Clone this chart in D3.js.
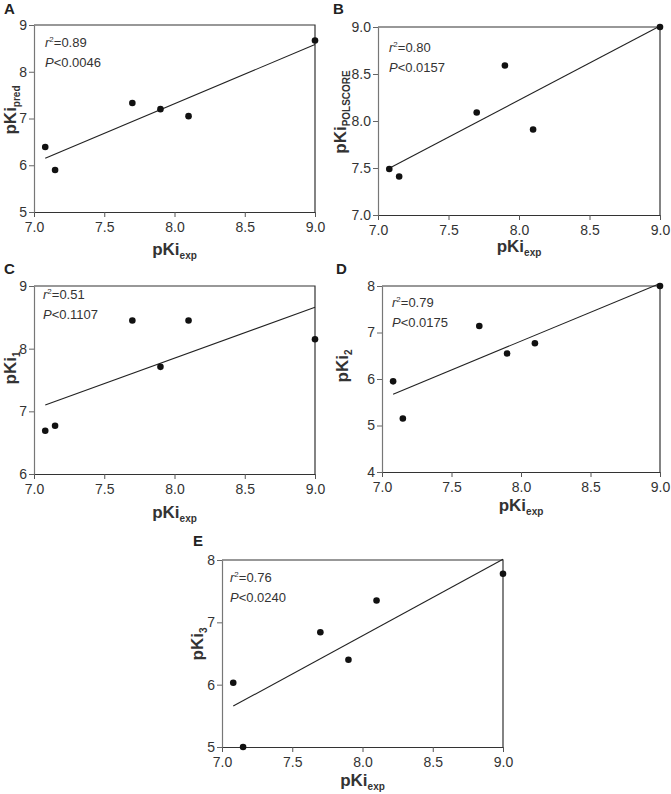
<!DOCTYPE html>
<html>
<head>
<meta charset="utf-8">
<script src="https://cdn.jsdelivr.net/npm/d3@7"></script>
<style>
  body { margin: 0; background: #fff; }
  svg text { font-family: "Liberation Sans", Arial, Helvetica, sans-serif; }
</style>
</head>
<body>
<div id="graph"><svg></svg></div>
<script>
// data
const pKiExp = [7.08, 7.15, 7.70, 7.90, 8.10, 9.00];
const pKiPred = [6.39, 5.90, 7.33, 7.20, 7.05, 8.67];
const pKiPolscore = [7.49, 7.41, 8.09, 8.59, 7.91, 9.00];
const pKi1 = [6.69, 6.77, 8.45, 7.71, 8.45, 8.15];
const pKi2 = [5.95, 5.15, 7.14, 6.55, 6.77, 8.00];
const pKi3 = [6.03, 5.00, 6.84, 6.40, 7.35, 7.78];

const panelLetters = ["A", "B", "C", "D", "E"];
const ySubscripts = ["pred", "POLSCORE", "1", "2", "3"];
const r2Labels = ["0.89", "0.80", "0.51", "0.79", "0.76"];
const pLabels = ["0.0046", "0.0157", "0.1107", "0.0175", "0.0240"];
const yDomains = [[5, 9], [7, 9], [6, 9], [4, 8], [5, 8]];
const yTicks = [[5, 6, 7, 8, 9], [7, 7.5, 8, 8.5, 9], [6, 7, 8, 9], [4, 5, 6, 7, 8], [5, 6, 7, 8]];
const yFormats = ["d", ".1f", "d", "d", "d"];
const xDomain = [7, 9];
const xTicks = [7.0, 7.5, 8.0, 8.5, 9.0];
const ySeries = [pKiPred, pKiPolscore, pKi1, pKi2, pKi3];

// layout of the five panels (pixel boxes)
const boxes = [
  { left: 34, top: 25, right: 315, bottom: 212, letter: [4, 14], ylab: [16, 110], xlab: 43, stat: [11, 22] },
  { left: 378, top: 27, right: 660, bottom: 215, letter: [333, 14], ylab: [346, 112], xlab: 37, stat: [11, 25] },
  { left: 34, top: 286, right: 315, bottom: 474, letter: [4, 274], ylab: [16, 368], xlab: 44, stat: [9, 13] },
  { left: 382, top: 286, right: 660, bottom: 472, letter: [336, 274], ylab: [348, 366], xlab: 39, stat: [10, 21] },
  { left: 222, top: 560, right: 503, bottom: 747, letter: [193, 546], ylab: [203, 644], xlab: 39, stat: [8, 22] }
];

let svg = d3.select("div#graph svg").attr("width", 671).attr("height", 794);

function fit(xs, ys) {
  let mx = d3.mean(xs), my = d3.mean(ys);
  let sxy = 0, sxx = 0;
  for (let i = 0; i < xs.length; i++) {
    sxy += (xs[i] - mx) * (ys[i] - my);
    sxx += (xs[i] - mx) * (xs[i] - mx);
  }
  let b = sxy / sxx;
  return (x) => my + b * (x - mx);
}

boxes.forEach((box, k) => {
  let xScale = d3.scaleLinear().domain(xDomain).range([box.left, box.right]);
  let yScale = d3.scaleLinear().domain(yDomains[k]).range([box.bottom, box.top]);
  let g = svg.append("g");

  // frame: top and right
  g.append("path")
    .attr("d", `M${box.left},${box.top}H${box.right}V${box.bottom}`)
    .attr("fill", "none")
    .attr("stroke", "#333")
    .attr("stroke-width", 1.2);

  // x axis
  let xAxis = g.append("g")
    .attr("transform", "translate(0," + box.bottom + ")")
    .call(d3.axisBottom(xScale).tickValues(xTicks).tickFormat(d3.format(".1f"))
      .tickSize(5).tickSizeOuter(0).tickPadding(5));
  xAxis.select(".domain").attr("stroke", "#333").attr("stroke-width", 1.2);
  xAxis.selectAll(".tick line").attr("stroke", "#555");
  xAxis.selectAll("text").style("font-size", "14px").attr("fill", "#333");

  // y axis
  let yAxis = g.append("g")
    .attr("transform", "translate(" + box.left + ",0)")
    .call(d3.axisLeft(yScale).tickValues(yTicks[k]).tickFormat(d3.format(yFormats[k]))
      .tickSize(5).tickSizeOuter(0).tickPadding(2));
  yAxis.select(".domain").attr("stroke", "#777").attr("stroke-width", 1.2);
  yAxis.selectAll(".tick line").attr("stroke", "#666");
  yAxis.selectAll("text").style("font-size", "14px").attr("fill", "#333");

  // regression line
  let f = fit(pKiExp, ySeries[k]);
  let x0 = d3.min(pKiExp), x1 = d3.max(pKiExp);
  g.append("line")
    .attr("x1", xScale(x0)).attr("y1", yScale(f(x0)))
    .attr("x2", xScale(x1)).attr("y2", yScale(f(x1)))
    .attr("stroke", "#222")
    .attr("stroke-width", 1.1);

  // points
  g.selectAll("circle")
    .data(pKiExp.map((x, i) => ({ x: x, y: ySeries[k][i] })))
    .join("circle")
    .attr("cx", (d) => xScale(d.x))
    .attr("cy", (d) => yScale(d.y))
    .attr("r", 3.3)
    .attr("fill", "#111");

  // panel letter
  g.append("text")
    .attr("x", box.letter[0])
    .attr("y", box.letter[1])
    .style("font-size", "15px")
    .style("font-weight", "bold")
    .attr("fill", "#222")
    .text(panelLetters[k]);

  // stats
  let st = g.append("text")
    .attr("x", box.left + box.stat[0])
    .attr("y", box.top + box.stat[1])
    .style("font-size", "13px")
    .attr("fill", "#333");
  st.append("tspan").style("font-style", "italic").text("r");
  st.append("tspan").attr("dy", -5).style("font-size", "8px").text("2");
  st.append("tspan").attr("dy", 5).text("=" + r2Labels[k]);

  let pt = g.append("text")
    .attr("x", box.left + box.stat[0])
    .attr("y", box.top + box.stat[1] + 20)
    .style("font-size", "13px")
    .attr("fill", "#333");
  pt.append("tspan").style("font-style", "italic").text("P");
  pt.append("tspan").text("<" + pLabels[k]);

  // x label
  let xl = g.append("text")
    .attr("x", (box.left + box.right) / 2)
    .attr("y", box.bottom + box.xlab)
    .attr("text-anchor", "middle")
    .style("font-weight", "bold")
    .attr("fill", "#333");
  xl.append("tspan").style("font-size", "17px").text("pKi");
  xl.append("tspan").attr("dy", 3.5).style("font-size", "10px").text("exp");

  // y label
  let yl = g.append("text")
    .attr("transform", "translate(" + box.ylab[0] + "," + box.ylab[1] + ") rotate(-90)")
    .attr("text-anchor", "middle")
    .style("font-weight", "bold")
    .attr("fill", "#333");
  yl.append("tspan").style("font-size", "17px").text("pKi");
  yl.append("tspan").attr("dy", 4).style("font-size", "10px").text(ySubscripts[k]);
});
</script>
</body>
</html>
